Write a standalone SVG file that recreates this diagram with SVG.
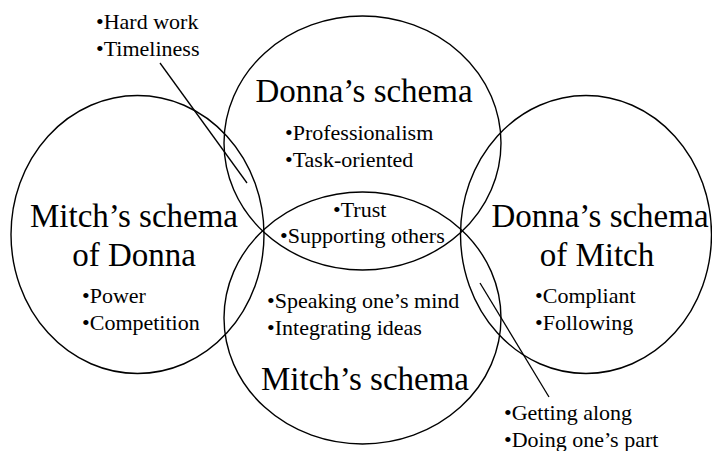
<svg xmlns="http://www.w3.org/2000/svg" width="712" height="451" viewBox="0 0 712 451">
  <style>
    .ring { fill: none; stroke: #000; stroke-width: 1.4; }
    .lead { stroke: #000; stroke-width: 1.3; fill: none; }
    .title { font-size: 33px; text-anchor: middle; }
    .item { font-size: 22px; }
  </style>
  <rect width="712" height="451" fill="#fff"/>

  <g font-family="Liberation Serif, Tinos, Times New Roman, DejaVu Serif, serif" fill="#000">
    <g id="mitch-schema-of-donna">
      <ellipse class="ring" cx="137.5" cy="234.5" rx="126.5" ry="139"/>
      <text class="title" x="134" y="227">Mitch’s schema</text>
      <text class="title" x="134" y="266">of Donna</text>
      <text class="item" x="82" y="303">•Power</text>
      <text class="item" x="82" y="330">•Competition</text>
    </g>

    <g id="donna-schema">
      <ellipse class="ring" cx="362.5" cy="143" rx="138.5" ry="127"/>
      <text class="title" x="364" y="102">Donna’s schema</text>
      <text class="item" x="285" y="140">•Professionalism</text>
      <text class="item" x="285" y="167">•Task-oriented</text>
    </g>

    <g id="mitch-schema">
      <ellipse class="ring" cx="362.5" cy="318" rx="138.5" ry="126"/>
      <text class="title" x="365" y="390">Mitch’s schema</text>
      <text class="item" x="267" y="308">•Speaking one’s mind</text>
      <text class="item" x="267" y="335">•Integrating ideas</text>
    </g>

    <g id="donna-schema-of-mitch">
      <ellipse class="ring" cx="586" cy="234.5" rx="125.5" ry="139"/>
      <text class="title" x="600" y="227">Donna’s schema</text>
      <text class="title" x="597" y="266">of Mitch</text>
      <text class="item" x="535" y="303">•Compliant</text>
      <text class="item" x="535" y="330">•Following</text>
    </g>

    <g id="shared">
      <text class="item" x="333" y="217">•Trust</text>
      <text class="item" x="280" y="243">•Supporting others</text>
    </g>

    <g id="callout-top">
      <text class="item" x="96" y="29">•Hard work</text>
      <text class="item" x="96" y="56">•Timeliness</text>
    </g>

    <g id="callout-bottom">
      <text class="item" x="504" y="420">•Getting along</text>
      <text class="item" x="504" y="447">•Doing one’s part</text>
    </g>
  </g>

  <g id="connectors">
    <line class="lead" x1="160" y1="63" x2="247" y2="183"/>
    <line class="lead" x1="480" y1="283" x2="549" y2="397"/>
  </g>
</svg>
